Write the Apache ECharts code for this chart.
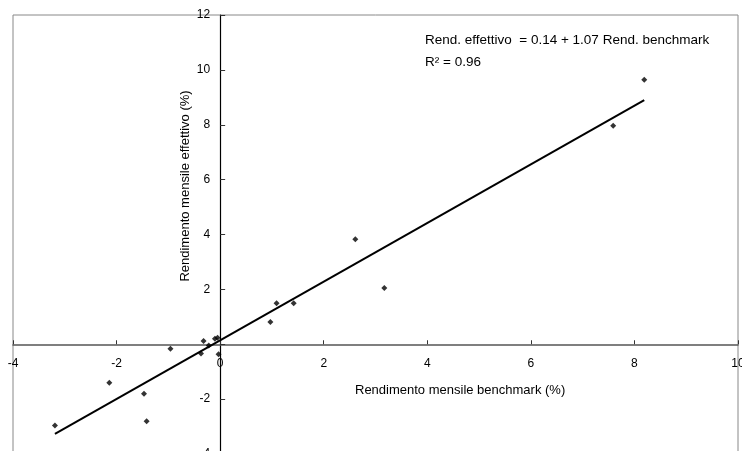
<!DOCTYPE html>
<html>
<head>
<meta charset="utf-8">
<script src="https://cdn.jsdelivr.net/npm/echarts@6/dist/echarts.min.js"></script>
<style>
html,body{margin:0;padding:0;background:#fff;}
#c{width:742px;height:451px;}
</style>
</head>
<body>
<div id="c"></div>
<script>
// Data
var benchmarkX = [-3.19, -2.14, -1.47, -1.42, -0.96, -0.37, -0.32, -0.22, -0.10, -0.05, -0.03, 0.97, 1.09, 1.42, 2.61, 3.17, 7.59, 8.19];
var effettivoY = [-2.96, -1.40, -1.80, -2.81, -0.16, -0.34, 0.12, -0.05, 0.20, 0.24, -0.36, 0.81, 1.49, 1.49, 3.83, 2.05, 7.96, 9.64];
var trendX = [-3.19, 8.19];
var trendY = [-3.27, 8.90];
var xTicks = [-4, -2, 0, 2, 4, 6, 8, 10];
var yTicks = [-4, -2, 0, 2, 4, 6, 8, 10, 12];
var xTitle = 'Rendimento mensile benchmark (%)';
var yTitle = 'Rendimento mensile effettivo (%)';
var eqLine1 = 'Rend. effettivo  = 0.14 + 1.07 Rend. benchmark';
var eqLine2 = 'R\u00B2 = 0.96';

var pts = benchmarkX.map(function (x, i) { return [x, effettivoY[i]]; });
var trend = trendX.map(function (x, i) { return [x, trendY[i]]; });

var G = { left: 13, top: 15, width: 725, height: 439 };
var xMin = xTicks[0], xMax = xTicks[xTicks.length - 1];
var yMin = yTicks[0], yMax = yTicks[yTicks.length - 1];
// move axes onto the zero lines (labels follow the axis)
var xOffset = -G.height * (0 - yMin) / (yMax - yMin);
var yOffset = -G.width * (0 - xMin) / (xMax - xMin);

var font = '"Liberation Sans", Arial, sans-serif';
var chart = echarts.init(document.getElementById('c'));
chart.setOption({
  animation: false,
  backgroundColor: '#fff',
  grid: { left: G.left, top: G.top, width: G.width, height: G.height, show: true, borderColor: '#888', borderWidth: 1, containLabel: false, outerBoundsMode: 'none' },
  xAxis: {
    type: 'value', min: xMin, max: xMax, interval: 2, position: 'bottom', offset: xOffset,
    axisLine: { onZero: false, lineStyle: { color: '#555', width: 1.5 } },
    axisTick: { inside: true, length: 4, lineStyle: { color: '#333' } },
    axisLabel: { color: '#000', fontFamily: font, fontSize: 12, margin: 13 },
    splitLine: { show: false }
  },
  yAxis: {
    type: 'value', min: yMin, max: yMax, interval: 2, position: 'left', offset: yOffset,
    axisLine: { onZero: false, lineStyle: { color: '#000', width: 1.2 } },
    axisTick: { inside: true, length: 5, lineStyle: { color: '#333' } },
    axisLabel: { color: '#000', fontFamily: font, fontSize: 12, margin: 10,
      formatter: function (v) { return v === 0 ? '' : String(v); } },
    splitLine: { show: false }
  },
  series: [
    { type: 'scatter', data: pts, symbol: 'diamond', symbolSize: 6, itemStyle: { color: '#000' }, z: 3 },
    { type: 'line', data: trend, symbol: 'none', lineStyle: { color: '#000', width: 2 }, z: 2 }
  ],
  graphic: [
    { type: 'text', left: 355, top: 384, style: { text: xTitle, font: '13px ' + font, fill: '#000' } },
    { type: 'text', x: 185, y: 186, rotation: Math.PI / 2, style: { text: yTitle, font: '13px ' + font, fill: '#000', align: 'center', verticalAlign: 'middle' } },
    { type: 'text', left: 425, top: 33, style: { text: eqLine1, font: '13.5px ' + font, fill: '#000' } },
    { type: 'text', left: 425, top: 55, style: { text: eqLine2, font: '13.5px ' + font, fill: '#000' } }
  ]
});
</script>
</body>
</html>
